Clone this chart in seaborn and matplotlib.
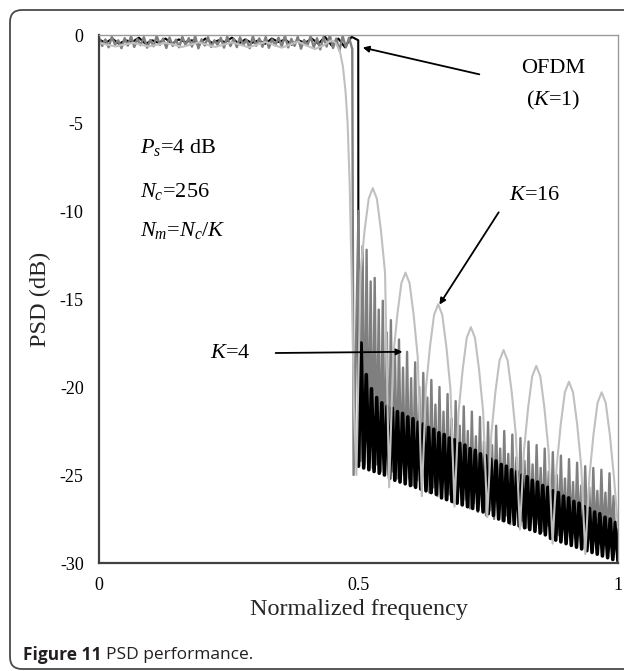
import numpy as np
import pandas as pd
import matplotlib
matplotlib.use("Agg")
import matplotlib.pyplot as plt
import seaborn as sns
from matplotlib.patches import FancyBboxPatch

sns.set_style("white")
plt.rcParams["font.family"] = ["Liberation Serif", "DejaVu Serif"]
plt.rcParams["mathtext.fontset"] = "custom"
plt.rcParams["mathtext.rm"] = "Liberation Serif"
plt.rcParams["mathtext.it"] = "Liberation Serif:italic"
plt.rcParams["axes.unicode_minus"] = False

# ---------------- data ----------------
x_ticks = [0, 0.5, 1]
x_tick_labels = ["0", "0.5", "1"]
y_ticks = [0, -5, -10, -15, -20, -25, -30]
y_tick_labels = ["0", "-5", "-10", "-15", "-20", "-25", "-30"]

# OFDM (K=1): passband, then sidelobe troughs / peaks above 0.5
k1_pass_psd = [-0.25, -0.45, -0.2, -0.5, -0.3, -0.4, -0.15, -0.5, -0.3, -0.45,
               -0.2, -0.5, -0.25, -0.4, -0.3, -0.55, -0.2, -0.45, -0.3, -0.4,
               -0.15, -0.5, -0.25, -0.45, -0.3, -0.5, -0.2, -0.4, -0.25, -0.55,
               -0.3, -0.45, -0.2, -0.5, -0.1, -0.6, -0.2, -0.7, -0.1, -0.3]
k1_trough_psd = [-24.5, -24.6, -24.7, -24.8, -24.9, -25.0, -25.2, -25.3, -25.4, -25.5,
                 -25.6, -25.7, -25.8, -25.9, -26.0, -26.1, -26.3, -26.4, -26.5, -26.6,
                 -26.7, -26.8, -26.9, -27.0, -27.1, -27.2, -27.3, -27.5, -27.6, -27.7,
                 -27.8, -27.9, -28.0, -28.1, -28.2, -28.3, -28.4, -28.6, -28.7, -28.8,
                 -28.9, -29.0, -29.1, -29.2, -29.3, -29.4, -29.5, -29.6, -29.7, -29.8,
                 -29.9]
k1_peak_psd = [-17.5, -19.3, -20.1, -20.6, -20.9, -21.1, -21.2, -21.4, -21.5, -21.7,
               -21.8, -22.0, -22.1, -22.3, -22.4, -22.6, -22.7, -22.9, -23.0, -23.2,
               -23.3, -23.5, -23.6, -23.8, -23.9, -24.1, -24.2, -24.4, -24.5, -24.7,
               -24.8, -25.0, -25.1, -25.3, -25.4, -25.6, -25.7, -25.9, -26.0, -26.2,
               -26.3, -26.5, -26.6, -26.8, -26.9, -27.1, -27.2, -27.4, -27.5, -27.7]

# K=4
k4_pass_psd = [-0.15, -0.62, -0.25, -0.70, -0.10, -0.55, -0.30, -0.75, -0.18, -0.60,
               -0.08, -0.68, -0.22, -0.58, -0.12, -0.72, -0.28, -0.64, -0.05, -0.56,
               -0.20, -0.74, -0.14, -0.62, -0.26, -0.70, -0.10, -0.58, -0.18, -0.66,
               -0.06, -0.76, -0.24, -0.60, -0.12, -0.68, -0.30, -0.56, -0.16, -0.72,
               -0.09, -0.63, -0.21, -0.69, -0.13, -0.57, -0.27, -0.75, -0.07, -0.61,
               -0.19, -0.67, -0.11, -0.73, -0.25, -0.59, -0.15, -0.65, -0.05, -0.71,
               -0.22, -0.62, -0.10, -0.78, -0.28, -0.60, -0.08, -0.70, -0.18, -0.82,
               -0.12, -0.66, -0.02, -0.74, -0.20, -0.88, -0.06, -0.70, -0.15, -0.80]
k4_edge_psd = -25.0
k4_peak_psd = [-10.0, -12.0, -12.2, -14.0, -13.8, -15.6, -15.1, -16.9, -16.2, -17.9,
               -17.3, -18.9, -18.0, -19.5, -18.6, -20.0, -19.2, -20.6, -19.6, -21.0,
               -20.0, -21.4, -20.4, -21.8, -20.8, -22.2, -21.1, -22.5, -21.4, -22.8,
               -21.7, -23.1, -22.0, -23.3, -22.2, -23.5, -22.5, -23.8, -22.7, -24.0,
               -22.9, -24.2, -23.1, -24.4, -23.3, -24.6, -23.5, -24.8, -23.7, -25.0,
               -23.9, -25.2, -24.1, -25.4, -24.3, -25.6, -24.5, -25.7, -24.6, -25.9,
               -24.7, -26.0, -24.9, -26.2]
k4_trough_psd = [-24.2, -24.4, -24.3, -24.6, -24.4, -24.8, -24.6, -25.0, -24.8, -25.2,
                 -25.0, -25.4, -25.2, -25.6, -25.3, -25.8, -25.5, -26.0, -25.7, -26.2,
                 -25.9, -26.4, -26.1, -26.6, -26.2, -26.7, -26.4, -26.9, -26.6, -27.1,
                 -26.8, -27.3, -27.0, -27.5, -27.1, -27.6, -27.3, -27.8, -27.4, -27.9,
                 -27.6, -28.0, -27.7, -28.1, -27.8, -28.2, -27.9, -28.3, -28.0, -28.4,
                 -28.1, -28.5, -28.2, -28.6, -28.3, -28.7, -28.4, -28.8, -28.5, -28.9,
                 -28.6, -29.0, -28.7, -29.1]

# K=16
k16_pass_psd = [-0.45, -0.55, -0.65, -0.55, -0.45, -0.55, -0.65, -0.55, -0.45, -0.55,
                -0.68, -0.55, -0.42, -0.55, -0.68, -0.55, -0.42, -0.55, -0.70, -0.55,
                -0.40, -0.55, -0.72, -0.55, -0.38, -0.60, -0.80, -0.60, -0.30]
k16_edge_freq = [0.456, 0.464, 0.470, 0.475, 0.479, 0.483, 0.487, 0.491]
k16_edge_psd = [-0.45, -0.9, -1.8, -3.2, -5.0, -8.5, -14.0, -21.0]
k16_side_psd = [-25.0,
                -13.5, -11.1, -9.3, -8.7, -9.3, -11.1, -13.5, -25.7,
                -18.3, -15.9, -14.1, -13.5, -14.1, -15.9, -18.3, -26.2,
                -20.1, -17.7, -15.9, -15.3, -15.9, -17.7, -20.1, -26.8,
                -21.4, -19.0, -17.2, -16.6, -17.2, -19.0, -21.4, -27.4,
                -22.7, -20.3, -18.5, -17.9, -18.5, -20.3, -22.7, -28.1,
                -23.6, -21.2, -19.4, -18.8, -19.4, -21.2, -23.6, -28.9,
                -24.5, -22.1, -20.3, -19.7, -20.3, -22.1, -24.5, -29.5,
                -25.1, -22.7, -20.9, -20.3, -20.9, -22.7, -25.1, -28.0]

# ---------------- assemble series on their frequency grids ----------------
def interleave(a, b):
    out = []
    for i in range(max(len(a), len(b))):
        if i < len(a):
            out.append(a[i])
        if i < len(b):
            out.append(b[i])
    return out

k1_pf = list(np.linspace(0, 0.4995, len(k1_pass_psd)))
k1_tf = list(np.linspace(0.5, 1.0, len(k1_trough_psd)))
k1_kf = list(np.linspace(0.505, 0.995, len(k1_peak_psd)))
# passband plus the thin vertical band edge
df1_pass = pd.DataFrame({"freq": k1_pf + [k1_tf[0]],
                         "psd": k1_pass_psd + [k1_trough_psd[0]]})
# dense stop-band sidelobes
df1_stop = pd.DataFrame({"freq": interleave(k1_tf, k1_kf),
                         "psd": interleave(k1_trough_psd, k1_peak_psd)})

k4_pf = list(np.linspace(0, 0.488, len(k4_pass_psd)))
k4_kf = list(0.5 + 0.0078 * np.arange(len(k4_peak_psd)))
k4_tf = list(0.5039 + 0.0078 * np.arange(len(k4_trough_psd)))
df4 = pd.DataFrame({"freq": k4_pf + [0.4905] + interleave(k4_kf, k4_tf),
                    "psd": k4_pass_psd + [k4_edge_psd] + interleave(k4_peak_psd, k4_trough_psd)})

k16_pf = list(np.linspace(0, 0.448, len(k16_pass_psd)))
k16_sf = list(np.linspace(0.496, 1.0, len(k16_side_psd)))
df16 = pd.DataFrame({"freq": k16_pf + k16_edge_freq + k16_sf,
                     "psd": k16_pass_psd + k16_edge_psd + k16_side_psd})

# ---------------- figure ----------------
W, H = 624, 671
fig = plt.figure(figsize=(W / 100, H / 100), dpi=100)
ax = fig.add_axes([99 / W, 1 - 563 / H, 519 / W, 528 / H])

sns.lineplot(data=df1_pass, x="freq", y="psd", estimator=None, sort=False,
             color="#000000", lw=1.5, ax=ax)
sns.lineplot(data=df4, x="freq", y="psd", estimator=None, sort=False,
             color="#7f7f7f", lw=1.7, ax=ax)
sns.lineplot(data=df1_stop, x="freq", y="psd", estimator=None, sort=False,
             color="#000000", lw=2.6, ax=ax)
sns.lineplot(data=df16, x="freq", y="psd", estimator=None, sort=False,
             color="#c0c0c0", lw=1.5, ax=ax)

ax.set_xlim(0, 1)
ax.set_ylim(-30, 0)
ax.set_xticks(x_ticks)
ax.set_xticklabels(x_tick_labels)
ax.set_yticks(y_ticks)
ax.set_yticklabels(y_tick_labels)
ax.tick_params(axis="both", direction="in", length=4, width=1, colors="#333333",
               labelsize=13, labelcolor="#000000")
ax.tick_params(axis="y", pad=11)
ax.tick_params(axis="x", pad=10)

for s in ["left", "bottom"]:
    ax.spines[s].set_color("#404040")
    ax.spines[s].set_linewidth(1.6)
for s in ["top", "right"]:
    ax.spines[s].set_color("#9a9a9a")
    ax.spines[s].set_linewidth(1.0)

ax.set_xlabel("Normalized frequency", fontsize=17.5)
ax.set_ylabel("PSD (dB)", fontsize=17.5)
ax.xaxis.set_label_coords(0.5, -0.068)
ax.yaxis.set_label_coords(-0.092, 0.5)

# annotations
tk = dict(fontsize=16, color="#000000")
ax.text(0.079, -6.42, r"$P_s$=4 dB", ha="left", va="center", **tk)
ax.text(0.079, -8.92, r"$N_c$=256", ha="left", va="center", **tk)
ax.text(0.079, -11.08, r"$N_m$=$N_c$/$K$", ha="left", va="center", **tk)

ax.text(0.875, -1.9, "OFDM", ha="center", va="center", **tk)
ax.text(0.875, -3.7, r"($K$=1)", ha="center", va="center", **tk)
ax.annotate("", xy=(0.503, -0.68), xytext=(0.738, -2.27),
            arrowprops=dict(arrowstyle="-|>", color="black", lw=1.3, mutation_scale=9))

ax.text(0.84, -9.1, r"$K$=16", ha="center", va="center", **tk)
ax.annotate("", xy=(0.653, -15.45), xytext=(0.773, -9.94),
            arrowprops=dict(arrowstyle="-|>", color="black", lw=1.3, mutation_scale=9))

ax.text(0.252, -18.07, r"$K$=4", ha="center", va="center", **tk)
ax.annotate("", xy=(0.59, -18.0), xytext=(0.335, -18.07),
            arrowprops=dict(arrowstyle="-|>", color="black", lw=1.3, mutation_scale=9))

# outer rounded frame
frame = FancyBboxPatch((10, 2), 700, 659, boxstyle="round,pad=0,rounding_size=12",
                       transform=None, fill=False, edgecolor="#4a4a4a", lw=1.3)
fig.patches.append(frame)

# caption
cap1 = fig.text(23 / W, 16 / H, "Figure 11", fontfamily="Open Sans", fontweight="bold",
                fontsize=12.5, va="center", ha="left", color="#231f20")
fig.canvas.draw()
bb = cap1.get_window_extent(renderer=fig.canvas.get_renderer())
fig.text((bb.x1 + 4) / W, 16 / H, "PSD performance.", fontfamily="Open Sans",
         fontsize=12.5, va="center", ha="left", color="#231f20")

fig.savefig("out.png", dpi=100)
